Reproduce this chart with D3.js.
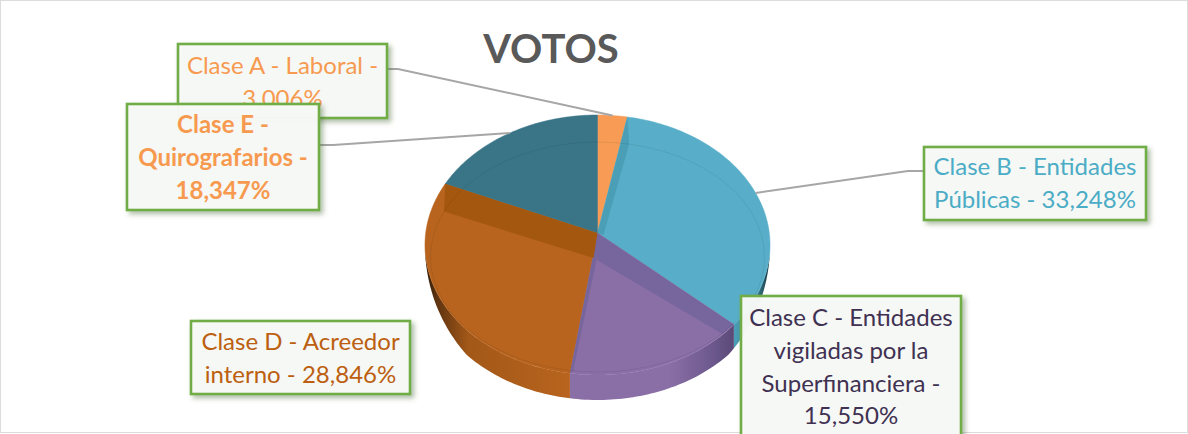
<!DOCTYPE html>
<html>
<head>
<meta charset="utf-8">
<script src="https://cdn.jsdelivr.net/npm/d3@7"></script>
<style>
	html, body { margin: 0; padding: 0; background: #fff; overflow: hidden; }
	svg { display: block; }
	text { font-family: Lato, "Open Sans", sans-serif; }
</style>
</head>
<body>
<div id="chart-area"></div>
<script>
// Data
const categories = ["Clase A", "Clase B", "Clase C", "Clase D", "Clase E"];
const votes = [3.006, 33.248, 15.550, 28.846, 18.347];
const labelLines = [
	["Clase A - Laboral -", "3,006%"],
	["Clase B - Entidades", "Públicas - 33,248%"],
	["Clase C - Entidades", "vigiladas por la", "Superfinanciera -", "15,550%"],
	["Clase D - Acreedor", "interno - 28,846%"],
	["Clase E -", "Quirografarios -", "18,347%"]
];

// Style
const faceColors = ["#f79b55", "#58aec8", "#8a6fa6", "#b8641e", "#3a7587"];
const bevelColors = ["#f79b55", "#4a9fb6", "#77659d", "#a4570f", "#3a7587"];
const textColors = ["#f79a50", "#4bacc6", "#403152", "#bc5f10", "#f79a50"];
const wallStops = [
	[["0", "#f79b55"], ["1", "#f79b55"]],
	[["0", "#4a9fb6"], ["0.6", "#3f8497"], ["1", "#12303a"]],
	[["0", "#8a6fa6"], ["0.6", "#8a6fa6"], ["0.85", "#6f5a8f"], ["1", "#5a4a78"]],
	[["0", "#2a1808"], ["0.08", "#5e3310"], ["0.3", "#a35818"], ["1", "#b8641e"]],
	[["0", "#3a7587"], ["1", "#3a7587"]]
];

const width = 1188;
const height = 434;

const svg = d3.select("#chart-area")
	.append("svg")
		.attr("width", width)
		.attr("height", height);

const defs = svg.append("defs");
const shadow = defs.append("filter")
	.attr("id", "box-shadow")
	.attr("x", "-10%").attr("y", "-10%")
	.attr("width", "125%").attr("height", "130%");
shadow.append("feDropShadow")
	.attr("dx", 3).attr("dy", 3)
	.attr("stdDeviation", 2.5)
	.attr("flood-color", "#4b6b3a")
	.attr("flood-opacity", 0.45);

// Page frame
svg.append("rect")
	.attr("x", 0.5).attr("y", 0.5)
	.attr("width", width - 1).attr("height", height - 2)
	.attr("fill", "#fff")
	.attr("stroke", "#dcdcdc");

// Title
svg.append("text")
	.attr("x", 551)
	.attr("y", 63)
	.attr("text-anchor", "middle")
	.attr("font-size", "40px")
	.attr("font-weight", 700)
	.attr("fill", "#595959")
	.text("VOTOS");

// Pie in perspective: the centre of the pie does not fall in the centre of the ellipse
const cx = 597.5;
const cy = 233;
const scaleX = 171.8;
const scaleY = 128.9;
const tilt = 0.0923;
const depth = 25;

const project = (t, dy = 0) => {
	const w = 1 + tilt * Math.cos(t);
	return [cx + scaleX * Math.sin(t) / w, cy - scaleY * Math.cos(t) / w + dy];
};

// Faint ring seen through the top of the pie
const ring = { cy: 257, rx: 167, ry: 115 };
const ringPoint = (t) => [cx + ring.rx * Math.sin(t), ring.cy - ring.ry * Math.cos(t)];

const line = d3.line();
const arcPoints = (a, b, dy = 0) => {
	const n = Math.max(2, Math.ceil((b - a) / 0.02));
	return d3.range(n + 1).map((i) => project(a + (b - a) * i / n, dy));
};

const slices = d3.pie().sort(null)(votes);

const pie = svg.append("g").attr("class", "pie");

// Walls, only the front is seen and they thin out towards the sides
const wallFrom = Math.PI * 0.5;
const wallTo = Math.PI * 1.5;
const wallDrop = (t) => depth * Math.min(1, Math.max(0, (Math.abs(Math.cos(t)) - 0.1) / 0.6));
slices.forEach((d, i) => {
	const a = Math.max(d.startAngle, wallFrom);
	const b = Math.min(d.endAngle, wallTo);
	if (a >= b) return;
	const top = arcPoints(a, b);
	const bottom = top.map((p, k) => {
		const t = a + (b - a) * k / (top.length - 1);
		return [p[0], p[1] + wallDrop(t)];
	}).reverse();
	const xs = top.map((p) => p[0]);
	const grad = defs.append("linearGradient")
		.attr("id", "wall-" + i)
		.attr("gradientUnits", "userSpaceOnUse")
		.attr("x1", d3.min(xs))
		.attr("x2", d3.max(xs))
		.attr("y1", 0).attr("y2", 0);
	wallStops[i].forEach((s) => {
		grad.append("stop").attr("offset", s[0]).attr("stop-color", s[1]);
	});
	pie.append("path")
		.attr("d", line(top.concat(bottom)) + "Z")
		.attr("fill", "url(#wall-" + i + ")");
});

// Faces
pie.selectAll("path.face")
	.data(slices)
	.enter()
	.append("path")
		.attr("class", "face")
		.attr("d", (d) => line([[cx, cy]].concat(arcPoints(d.startAngle, d.endAngle))) + "Z")
		.attr("fill", (d, i) => faceColors[i])
		.attr("stroke", (d, i) => faceColors[i])
		.attr("stroke-width", 0.5);

// Darker bevels along the cuts between slices: slice index, which edge, inner corner offset
const bevels = [
	{ slice: 1, edge: "startAngle", dx: 6, dy: 2 },
	{ slice: 2, edge: "startAngle", dx: -4, dy: 25 },
	{ slice: 2, edge: "endAngle", dx: -1, dy: 27 },
	{ slice: 3, edge: "endAngle", dx: -4, dy: 25 }
];
bevels.forEach((b) => {
	const t = slices[b.slice][b.edge];
	pie.append("path")
		.attr("d", line([[cx, cy], project(t), ringPoint(t), [cx + b.dx, cy + b.dy]]) + "Z")
		.attr("fill", bevelColors[b.slice]);
});

pie.append("ellipse")
	.attr("cx", cx).attr("cy", ring.cy)
	.attr("rx", ring.rx).attr("ry", ring.ry)
	.attr("fill", "none")
	.attr("stroke", "#000")
	.attr("stroke-opacity", 0.07);

// Leader lines, from the middle of each slice to its box
const leaders = [
	{ slice: 0, box: [387, 69], elbow: [398, 69] },
	{ slice: 4, box: [319, 145], elbow: [333, 145] },
	{ slice: 1, box: [924, 171], elbow: [908, 171] }
];
leaders.forEach((l) => {
	const d = slices[l.slice];
	svg.append("path")
		.attr("d", line([l.box, l.elbow, project((d.startAngle + d.endAngle) / 2)]))
		.attr("fill", "none")
		.attr("stroke", "#a6a6a6")
		.attr("stroke-width", 2);
});

// Label boxes, in drawing order so that box E covers the second line of box A
const boxes = [
	{ i: 0, x: 178, y: 44, w: 209, h: 74, first: 74 },
	{ i: 3, x: 191, y: 321, w: 219, h: 73, first: 350 },
	{ i: 4, x: 127, y: 104, w: 192, h: 106, first: 133, bold: true },
	{ i: 1, x: 924, y: 147, w: 222, h: 73, first: 175 },
	{ i: 2, x: 741, y: 296, w: 220, h: 150, first: 326 }
];
boxes.forEach((b) => {
	const g = svg.append("g").attr("class", "label-box");
	g.append("rect")
		.attr("x", b.x).attr("y", b.y)
		.attr("width", b.w).attr("height", b.h)
		.attr("fill", "#f8faf7")
		.attr("fill-opacity", 0.96)
		.attr("stroke", "#70ad47")
		.attr("stroke-width", 2.6)
		.attr("filter", "url(#box-shadow)");
	labelLines[b.i].forEach((txt, k) => {
		g.append("text")
			.attr("x", b.x + b.w / 2)
			.attr("y", b.first + k * 32.8)
			.attr("text-anchor", "middle")
			.attr("font-size", "24px")
			.attr("font-weight", b.bold ? 700 : 400)
			.attr("fill", textColors[b.i])
			.text(txt);
	});
});
</script>
</body>
</html>
